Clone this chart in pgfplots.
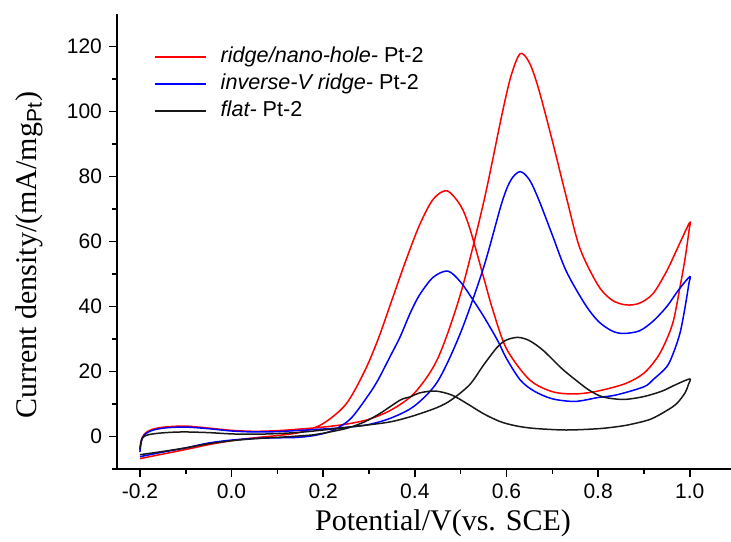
\documentclass[border=0pt]{standalone}
\usepackage{fontspec}
\setmainfont{Liberation Serif}
\setsansfont{Liberation Sans}
\usepackage{pgfplots}
\pgfplotsset{compat=1.18}
\definecolor{cvred}{RGB}{255,0,0}
\definecolor{cvblue}{RGB}{0,0,255}
\definecolor{cvblack}{RGB}{25,25,25}
\begin{document}
\begin{tikzpicture}
\useasboundingbox (-58.5pt,-36pt) rectangle (307pt,234.5pt);
\begin{axis}[
  at={(0pt,0pt)}, anchor=south west,
  scale only axis, width=307pt, height=227.5pt,
  xmin=-0.25, xmax=1.09, ymin=-10, ymax=130,
  axis x line*=bottom, axis y line*=left,
  axis line style={line width=0.9pt,-},
  tick align=outside,
  major tick length=4pt, minor tick length=2.3pt,
  every tick/.style={black, line width=0.8pt},
  xtick={-0.2,0,0.2,0.4,0.6,0.8,1.0},
  minor xtick={-0.1,0.1,0.3,0.5,0.7,0.9},
  ytick={0,20,40,60,80,100,120},
  minor ytick={-10,10,30,50,70,90,110},
  /pgf/number format/assume math mode=true,
  xticklabel style={/pgf/number format/.cd, fixed, fixed zerofill, precision=1},
  yticklabel style={/pgf/number format/.cd, fixed, precision=0},
  tick label style={font=\sffamily\fontsize{10.5}{12}\selectfont},
  xlabel={Potential/V(vs. SCE)},
  ylabel={Current density/(mA/mg\textsubscript{\sffamily Pt})},
  xlabel style={font=\fontsize{15}{17}\selectfont, at={(axis description cs:0.531,-0.119)}, anchor=center},
  ylabel style={font=\fontsize{15}{17}\selectfont, at={(axis description cs:-0.142,0.47)}, anchor=center},
  legend cell align=left,
  legend style={draw=none, fill=none, at={(axis description cs:0.06,0.934)}, anchor=north west,
    font=\sffamily\fontsize{10.8}{12}\selectfont, inner sep=0pt, row sep=1pt,
    nodes={inner sep=1pt, text height=8pt, text depth=2.5pt}},
  legend image code/.code={\draw[#1] (0pt,0pt) -- (25.5pt,0pt); \path (31.5pt,0pt);},
]
\addplot[cvred, line width=0.75pt, smooth, tension=0.5] coordinates {
(-0.2,-4.3) (-0.198,-2) (-0.195,-0.3) (-0.19,0.8) (-0.18,1.8) (-0.165,2.5) (-0.14,3.0) (-0.1,3.2) (-0.05,2.6) (0,1.9) (0.05,1.6) (0.1,1.8) (0.15,2.3) (0.2,2.9) (0.25,3.8) (0.3,5.3) (0.35,8.3) (0.4,13.5) (0.45,24) (0.5,44) (0.55,72) (0.59,99) (0.61,111) (0.63,117.8) (0.65,115) (0.67,107) (0.7,91) (0.73,74) (0.76,58) (0.8,46.5) (0.83,42) (0.86,40.5) (0.89,41) (0.92,44) (0.95,51) (0.975,58.5) (1.0,65.9)
(0.998,63) (0.99,55) (0.98,47) (0.965,36) (0.95,30) (0.93,24.5) (0.9,19.5) (0.86,16.3) (0.8,14) (0.75,13.1) (0.7,13.8) (0.65,17.5) (0.6,27) (0.57,39) (0.55,49) (0.52,64) (0.5,71) (0.47,75.6) (0.44,73) (0.41,65) (0.38,54) (0.35,42) (0.32,30) (0.29,20) (0.25,10) (0.2,4) (0.15,1.3) (0.1,0.3) (0.05,-0.4) (0,-1.3) (-0.05,-2.5) (-0.1,-4.0) (-0.15,-5.4) (-0.2,-6.8)
};
\addlegendentry{\textit{ridge/nano-hole-} Pt-2}
\addplot[cvblue, line width=0.75pt, smooth, tension=0.5] coordinates {
(-0.2,-4.8) (-0.198,-2.5) (-0.195,-0.6) (-0.19,0.5) (-0.18,1.5) (-0.165,2.2) (-0.14,2.7) (-0.1,2.9) (-0.05,2.4) (0,1.7) (0.05,1.4) (0.1,1.5) (0.15,1.9) (0.2,2.3) (0.25,2.8) (0.3,3.7) (0.35,5.8) (0.4,9.5) (0.45,17) (0.5,32) (0.55,52) (0.59,72) (0.61,79) (0.63,81.5) (0.65,79) (0.67,73) (0.7,62) (0.73,51) (0.77,41) (0.8,35.5) (0.83,32.5) (0.855,31.7) (0.89,32.5) (0.92,35.5) (0.95,40) (0.975,45) (1.0,49.2)
(0.998,47) (0.99,40) (0.979,32) (0.965,26) (0.95,21.5) (0.92,17.5) (0.9,15.3) (0.84,12.8) (0.8,12) (0.75,10.8) (0.7,11.6) (0.66,14) (0.63,17.4) (0.6,24) (0.58,29.7) (0.55,37) (0.527,42) (0.5,47.5) (0.472,50.9) (0.44,49) (0.41,43.5) (0.39,38) (0.368,30.7) (0.346,24.6) (0.32,17.5) (0.3,13) (0.26,5.5) (0.22,1.8) (0.18,0.3) (0.14,-0.3) (0.1,-0.4) (0.05,-0.6) (0,-1.1) (-0.05,-2.0) (-0.1,-3.5) (-0.15,-4.8) (-0.2,-6.2)
};
\addlegendentry{\textit{inverse-V ridge-} Pt-2}
\addplot[cvblack, line width=0.75pt, smooth, tension=0.5] coordinates {
(-0.2,-3.8) (-0.198,-1.8) (-0.195,-0.6) (-0.19,0.1) (-0.18,0.6) (-0.16,1.0) (-0.13,1.3) (-0.1,1.4) (-0.05,1.2) (0,0.8) (0.05,0.7) (0.1,0.9) (0.15,1.3) (0.2,2) (0.25,2.8) (0.3,3.6) (0.35,4.6) (0.4,6.5) (0.45,9) (0.48,11.3) (0.52,16) (0.55,22) (0.58,27.5) (0.6,29.7) (0.625,30.5) (0.65,29.5) (0.68,26.5) (0.72,21) (0.75,17.5) (0.78,14.3) (0.81,12.2) (0.855,11.4) (0.9,12.3) (0.94,14) (0.97,16) (1.0,17.7)
(0.997,16) (0.99,13.5) (0.972,10.2) (0.95,8) (0.914,5.3) (0.87,3.7) (0.84,3) (0.8,2.4) (0.73,2) (0.66,2.5) (0.62,3.3) (0.586,4.6) (0.55,7) (0.513,10.2) (0.48,12.8) (0.444,14) (0.41,13.4) (0.39,12.2) (0.368,11.2) (0.324,7.1) (0.29,4.5) (0.251,2.5) (0.2,1.0) (0.178,0.5) (0.12,-0.1) (0.069,-0.5) (0.03,-0.9) (0,-1.3) (-0.05,-2.2) (-0.1,-3.5) (-0.15,-4.6) (-0.2,-5.6)
};
\addlegendentry{\textit{flat-} Pt-2}
\end{axis}
\end{tikzpicture}
\end{document}
